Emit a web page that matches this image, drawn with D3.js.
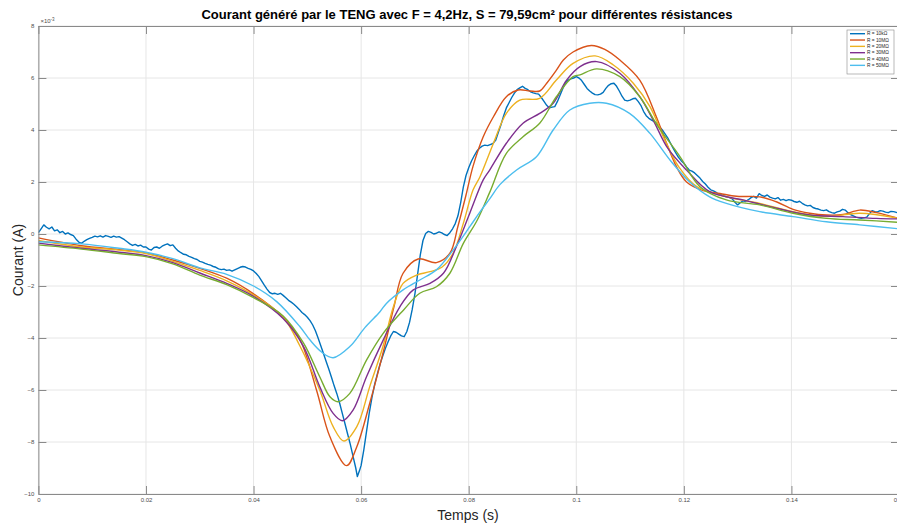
<!DOCTYPE html>
<html>
<head>
<meta charset="utf-8">
<script src="https://cdn.jsdelivr.net/npm/d3@7"></script>
<style>
  html, body { margin: 0; padding: 0; background: #ffffff; }
  svg { display: block; font-family: "Liberation Sans", Arial, sans-serif; }
</style>
</head>
<body>
<svg id="chart" width="897" height="524"></svg>
<script>
// ---------- DATA ----------
const titleText = "Courant généré par le TENG avec F = 4,2Hz, S = 79,59cm² pour différentes résistances";
const xLabel = "Temps (s)";
const yLabel = "Courant (A)";
const yExponent = "×10";
const seriesNames = ["R = 10kΩ", "R = 10MΩ", "R = 20MΩ", "R = 30MΩ", "R = 40MΩ", "R = 50MΩ"];
const seriesColors = ["#0072BD", "#D95319", "#EDB120", "#7E2F8E", "#77AC30", "#4DBEEE"];
const xTicks = [0, 0.02, 0.04, 0.06, 0.08, 0.1, 0.12, 0.14, 0.16];
const xTickLabels = ["0", "0.02", "0.04", "0.06", "0.08", "0.1", "0.12", "0.14", "0.16"];
const yTicks = [-10, -8, -6, -4, -2, 0, 2, 4, 6, 8];

// current values in mA (×10^-3 A), time in s
const r10k = [
 [0,0.05],[0.0005,0.2],[0.001,0.35],[0.0015,0.26],[0.002,0.2],[0.0025,0.27],[0.003,0.12],[0.0035,0.16],[0.004,0.05],[0.0045,0.1],
 [0.005,0.0],[0.0055,0.04],[0.006,-0.02],[0.0065,-0.06],[0.007,-0.2],[0.0075,-0.31],[0.008,-0.36],[0.0085,-0.28],[0.009,-0.22],[0.0095,-0.17],
 [0.010,-0.13],[0.0105,-0.08],[0.011,-0.11],[0.0115,-0.07],[0.012,-0.12],[0.0125,-0.06],[0.013,-0.09],[0.0135,-0.13],[0.014,-0.08],[0.0145,-0.12],
 [0.015,-0.1],[0.0155,-0.16],[0.016,-0.22],[0.0165,-0.3],[0.017,-0.38],[0.0175,-0.44],[0.018,-0.4],[0.0185,-0.46],[0.019,-0.43],[0.0195,-0.5],
 [0.020,-0.5],[0.0205,-0.58],[0.021,-0.62],[0.0215,-0.52],[0.022,-0.5],[0.0225,-0.55],[0.023,-0.47],[0.0235,-0.42],[0.024,-0.38],[0.0245,-0.45],
 [0.025,-0.42],[0.0255,-0.55],[0.026,-0.65],[0.0265,-0.72],[0.027,-0.78],[0.0275,-0.8],[0.028,-0.86],[0.0285,-0.9],[0.029,-0.95],[0.0295,-0.98],
 [0.030,-1.05],[0.0305,-1.08],[0.031,-1.13],[0.0315,-1.17],[0.032,-1.2],[0.0325,-1.25],[0.033,-1.28],[0.0335,-1.34],[0.034,-1.37],[0.0345,-1.35],
 [0.035,-1.4],[0.0355,-1.38],[0.036,-1.43],[0.0365,-1.38],[0.037,-1.33],[0.0375,-1.28],[0.038,-1.25],[0.0385,-1.27],[0.039,-1.32],[0.0395,-1.36],
 [0.040,-1.42],[0.0405,-1.52],[0.041,-1.64],[0.0415,-1.8],[0.042,-1.97],[0.0425,-2.12],[0.043,-2.25],[0.0435,-2.3],[0.044,-2.28],[0.0445,-2.32],
 [0.045,-2.28],[0.0455,-2.36],[0.046,-2.45],[0.0465,-2.55],[0.047,-2.62],[0.0475,-2.7],[0.048,-2.8],[0.0485,-2.9],[0.049,-3.02],[0.0495,-3.1],
 [0.050,-3.2],[0.0505,-3.33],[0.051,-3.5],[0.0515,-3.72],[0.052,-4.0],[0.0525,-4.3],[0.053,-4.6],[0.0535,-4.9],[0.054,-5.2],[0.0545,-5.52],
 [0.055,-5.85],[0.0555,-6.15],[0.056,-6.5],[0.0565,-6.9],[0.057,-7.3],[0.0575,-7.7],[0.058,-8.1],[0.0585,-8.55],[0.059,-9.0],[0.0593,-9.33],
 [0.0597,-9.1],[0.060,-8.9],[0.0605,-8.3],[0.061,-7.6],[0.0615,-6.9],[0.062,-6.3],[0.0625,-5.8],[0.063,-5.4],[0.0635,-5.02],[0.064,-4.7],
 [0.0645,-4.4],[0.065,-4.15],[0.0655,-3.92],[0.066,-3.75],[0.0665,-3.78],[0.067,-3.85],[0.0675,-3.92],[0.068,-3.95],[0.0685,-3.75],[0.069,-3.4],
 [0.0695,-2.9],[0.070,-2.3],[0.0705,-1.55],[0.071,-0.8],[0.0715,-0.25],[0.072,0.02],[0.0725,0.1],[0.073,0.06],[0.0735,0.0],[0.074,0.03],
 [0.0745,0.08],[0.075,0.04],[0.0755,-0.02],[0.076,-0.06],[0.0765,0.05],[0.077,0.2],[0.0775,0.4],[0.078,0.7],[0.0785,1.2],[0.079,1.8],
 [0.0795,2.25],[0.080,2.55],[0.0805,2.8],[0.081,3.0],[0.0815,3.18],[0.082,3.3],[0.0825,3.38],[0.083,3.42],[0.0835,3.4],[0.084,3.44],
 [0.0845,3.48],[0.085,3.6],[0.0855,3.9],[0.086,4.2],[0.0865,4.55],[0.087,4.85],[0.0875,5.05],[0.088,5.25],[0.0885,5.42],[0.089,5.55],
 [0.0895,5.62],[0.090,5.68],[0.0905,5.6],[0.091,5.55],[0.0915,5.47],[0.092,5.43],[0.0925,5.4],[0.093,5.38],[0.0935,5.25],[0.094,5.1],
 [0.0945,4.95],[0.095,4.85],[0.0955,4.88],[0.096,4.9],[0.0965,5.1],[0.097,5.35],[0.0975,5.6],[0.098,5.82],[0.0985,5.92],[0.099,5.97],
 [0.0995,6.0],[0.100,6.05],[0.1005,6.0],[0.101,5.9],[0.1015,5.75],[0.102,5.6],[0.1025,5.5],[0.103,5.42],[0.1035,5.36],[0.104,5.35],
 [0.1045,5.38],[0.105,5.45],[0.1055,5.6],[0.106,5.72],[0.1065,5.78],[0.107,5.8],[0.1075,5.68],[0.108,5.5],[0.1085,5.3],[0.109,5.15],
 [0.1095,5.12],[0.110,5.15],[0.1105,5.2],[0.111,5.22],[0.1115,5.1],[0.112,4.95],[0.1125,4.72],[0.113,4.55],[0.1135,4.45],[0.114,4.38],
 [0.1145,4.32],[0.115,4.25],[0.1155,4.12],[0.116,4.0],[0.1165,3.85],[0.117,3.7],[0.1175,3.5],[0.118,3.3],[0.1185,3.12],[0.119,2.95],
 [0.1195,2.82],[0.120,2.72],[0.1205,2.58],[0.121,2.46],[0.1215,2.42],[0.122,2.35],[0.1225,2.25],[0.123,2.15],[0.1235,2.02],[0.124,1.92],
 [0.1245,1.8],[0.125,1.7],[0.1255,1.66],[0.126,1.6],[0.1265,1.52],[0.127,1.5],[0.1275,1.46],[0.128,1.43],[0.1285,1.4],[0.129,1.35],
 [0.1295,1.22],[0.130,1.12],[0.1305,1.2],[0.131,1.28],[0.1315,1.25],[0.132,1.32],[0.1325,1.4],[0.133,1.45],[0.1335,1.38],[0.134,1.55],
 [0.1345,1.48],[0.135,1.45],[0.1355,1.5],[0.136,1.42],[0.1365,1.38],[0.137,1.35],[0.1375,1.4],[0.138,1.3],[0.1385,1.33],[0.139,1.28],
 [0.1395,1.32],[0.140,1.3],[0.1405,1.25],[0.141,1.22],[0.1415,1.26],[0.142,1.18],[0.1425,1.12],[0.143,1.08],[0.1435,1.1],[0.144,1.02],
 [0.1445,0.98],[0.145,0.96],[0.1455,0.92],[0.146,0.9],[0.1465,0.93],[0.147,0.86],[0.1475,0.82],[0.148,0.8],[0.1485,0.85],[0.149,0.88],
 [0.1495,0.95],[0.150,0.92],[0.1505,0.82],[0.151,0.75],[0.1515,0.7],[0.152,0.65],[0.1525,0.62],[0.153,0.6],[0.1535,0.62],[0.154,0.65],
 [0.1545,0.78],[0.155,0.9],[0.1555,0.86],[0.156,0.85],[0.1565,0.9],[0.157,0.88],[0.1575,0.84],[0.158,0.82],[0.1585,0.87],[0.159,0.86],[0.1595,0.83],[0.160,0.8]
];
const r10M = [
 [0,-0.15],[0.008,-0.45],[0.015,-0.6],[0.02,-0.73],[0.025,-1.0],[0.03,-1.32],[0.035,-1.7],[0.04,-2.3],[0.0455,-3.2],[0.0486,-4.05],
 [0.0517,-6.0],[0.0542,-7.8],[0.0573,-8.91],[0.0592,-8.18],[0.0616,-6.51],[0.0644,-4.3],[0.0661,-2.8],[0.0678,-1.51],[0.0706,-0.96],[0.074,-1.1],
 [0.0765,-0.74],[0.078,0.3],[0.0795,1.5],[0.0808,2.6],[0.0827,3.74],[0.0846,4.51],[0.087,5.28],[0.0892,5.54],[0.0914,5.5],[0.0932,5.5],
 [0.0945,5.8],[0.0963,6.3],[0.0976,6.69],[0.0994,7.0],[0.1028,7.25],[0.1053,7.1],[0.1081,6.69],[0.1118,5.92],[0.1149,4.5],[0.1162,3.8],
 [0.1186,2.6],[0.1205,2.0],[0.1236,1.67],[0.1267,1.56],[0.1298,1.45],[0.1341,1.43],[0.1372,1.24],[0.1403,0.95],[0.1434,0.8],[0.1465,0.73],
 [0.1496,0.75],[0.1527,0.92],[0.1558,0.82],[0.16,0.6]
];
const r20M = [
 [0,-0.25],[0.008,-0.5],[0.015,-0.62],[0.02,-0.75],[0.025,-1.05],[0.03,-1.4],[0.035,-1.8],[0.04,-2.35],[0.0455,-3.2],[0.0486,-4.3],
 [0.0523,-6.0],[0.0548,-7.41],[0.0568,-7.96],[0.0592,-7.41],[0.0616,-5.87],[0.0641,-4.3],[0.066,-2.8],[0.0678,-1.9],[0.0703,-1.58],[0.0728,-1.45],
 [0.075,-1.28],[0.0771,-0.74],[0.079,0.41],[0.0808,1.69],[0.0821,2.2],[0.0846,3.49],[0.087,4.64],[0.0895,5.15],[0.0932,5.22],[0.0963,5.92],
 [0.0994,6.56],[0.1035,6.85],[0.1069,6.5],[0.1106,5.8],[0.1137,4.9],[0.1165,3.6],[0.119,2.6],[0.1224,1.82],[0.1279,1.43],[0.1341,1.18],
 [0.1403,0.86],[0.1465,0.67],[0.1527,0.8],[0.16,0.6]
];
const r30M = [
 [0,-0.35],[0.008,-0.55],[0.015,-0.7],[0.02,-0.83],[0.025,-1.1],[0.03,-1.5],[0.035,-1.9],[0.04,-2.4],[0.0455,-3.25],[0.0493,-4.33],
 [0.0523,-5.87],[0.0548,-6.9],[0.0565,-7.18],[0.0585,-6.77],[0.061,-5.49],[0.0641,-4.08],[0.0672,-2.8],[0.0697,-2.15],[0.0728,-1.9],[0.0753,-1.51],
 [0.0777,-0.49],[0.0802,0.8],[0.0827,2.08],[0.0839,2.46],[0.087,3.49],[0.0901,4.26],[0.0932,4.64],[0.0957,5.03],[0.0982,5.92],[0.1007,6.44],
 [0.1038,6.63],[0.1081,6.18],[0.1118,5.28],[0.1143,4.38],[0.1170,3.3],[0.1205,2.46],[0.1248,1.63],[0.131,1.31],[0.1372,0.99],[0.1434,0.73],
 [0.1496,0.67],[0.1558,0.6],[0.16,0.58]
];
const r40M = [
 [0,-0.42],[0.008,-0.58],[0.015,-0.75],[0.02,-0.87],[0.025,-1.15],[0.03,-1.58],[0.035,-1.95],[0.04,-2.45],[0.0455,-3.15],[0.0493,-4.2],
 [0.0523,-5.49],[0.0542,-6.26],[0.0557,-6.45],[0.0579,-6.13],[0.061,-4.85],[0.0641,-3.82],[0.0679,-2.92],[0.0709,-2.28],[0.074,-2.03],[0.0765,-1.51],
 [0.079,-0.36],[0.0815,0.5],[0.0839,1.6],[0.087,3.1],[0.0901,3.74],[0.0932,4.26],[0.0963,5.28],[0.0994,6.05],[0.1007,6.12],[0.1038,6.35],
 [0.1081,6.05],[0.1118,5.28],[0.1150,4.2],[0.1193,2.97],[0.123,1.82],[0.1279,1.31],[0.1341,1.12],[0.1403,0.8],[0.1465,0.6],[0.1527,0.54],[0.16,0.45]
];
const r50M = [
 [0,-0.3],[0.008,-0.38],[0.015,-0.55],[0.02,-0.7],[0.025,-0.95],[0.03,-1.3],[0.035,-1.55],[0.04,-2.0],[0.0443,-2.6],[0.0486,-3.56],
 [0.0505,-4.08],[0.0527,-4.55],[0.0548,-4.76],[0.0579,-4.33],[0.0607,-3.6],[0.0635,-2.99],[0.0647,-2.67],[0.0678,-2.15],[0.0709,-1.77],[0.074,-1.38],
 [0.0771,-0.62],[0.0802,0.28],[0.0821,0.85],[0.0839,1.35],[0.0858,1.9],[0.0889,2.46],[0.0926,2.97],[0.0957,4.0],[0.0988,4.77],[0.1025,5.03],
 [0.1056,5.03],[0.1099,4.64],[0.1137,3.87],[0.1174,2.85],[0.1211,2.0],[0.1248,1.43],[0.1279,1.18],[0.1341,0.86],[0.1403,0.67],[0.1465,0.47],
 [0.1527,0.35],[0.16,0.2]
];
const seriesData = [r10k, r10M, r20M, r30M, r40M, r50M];

// ---------- LAYOUT ----------
const svg = d3.select("#chart");
const plotLeft = 38.4, plotRight = 899, plotTop = 26, plotBottom = 494;
const x = d3.scaleLinear().domain([0, 0.16]).range([plotLeft, plotRight]);
const y = d3.scaleLinear().domain([-10, 8]).range([plotBottom, plotTop]);
const axisColor = "#8a8a8a";
const labelColor = "#4d4d4d";

// grid
const grid = svg.append("g");
grid.selectAll("line.vx").data(xTicks).join("line")
  .attr("x1", d => x(d)).attr("x2", d => x(d))
  .attr("y1", plotTop).attr("y2", plotBottom)
  .attr("stroke", "#e6e6e6").attr("stroke-width", 1);
grid.selectAll("line.hy").data(yTicks).join("line")
  .attr("x1", plotLeft).attr("x2", plotRight)
  .attr("y1", d => y(d)).attr("y2", d => y(d))
  .attr("stroke", "#e6e6e6").attr("stroke-width", 1);

// lines
const clip = svg.append("clipPath").attr("id", "clip").append("rect")
  .attr("x", plotLeft).attr("y", plotTop).attr("width", plotRight - plotLeft).attr("height", plotBottom - plotTop);
const smoothLine = d3.line().x(d => x(d[0])).y(d => y(d[1])).curve(d3.curveCatmullRom.alpha(0.5));
const noisyLine = d3.line().x(d => x(d[0])).y(d => y(d[1])).curve(d3.curveLinear);
const lines = svg.append("g").attr("clip-path", "url(#clip)");
// draw in reverse so first series is on top? MATLAB draws later series on top
seriesData.forEach((s, i) => {
  lines.append("path")
    .datum(s)
    .attr("fill", "none")
    .attr("stroke", seriesColors[i])
    .attr("stroke-width", 1.4)
    .attr("stroke-linejoin", "round")
    .attr("d", i === 0 ? noisyLine : smoothLine);
});

// axes
const xAxisB = d3.axisBottom(x).tickValues(xTicks).tickFormat((d, i) => xTickLabels[i]).tickSizeInner(-8).tickSizeOuter(0).tickPadding(4);
const xAxisT = d3.axisTop(x).tickValues(xTicks).tickFormat("").tickSizeInner(-8).tickSizeOuter(0);
const yAxisL = d3.axisLeft(y).tickValues(yTicks).tickSizeInner(-8).tickSizeOuter(0).tickPadding(4);
const yAxisR = d3.axisRight(y).tickValues(yTicks).tickFormat("").tickSizeInner(-8).tickSizeOuter(0);

function styleAxis(g) {
  g.select(".domain").attr("stroke", axisColor);
  g.selectAll(".tick line").attr("stroke", axisColor);
  g.selectAll(".tick text").attr("fill", labelColor).style("font-size", "6px").style("font-family", "Liberation Sans, Arial, sans-serif");
}
svg.append("g").attr("transform", `translate(0,${plotBottom})`).call(xAxisB).call(styleAxis);
svg.append("g").attr("transform", `translate(0,${plotTop})`).call(xAxisT).call(styleAxis);
svg.append("g").attr("transform", `translate(${plotLeft},0)`).call(yAxisL).call(styleAxis);
svg.append("g").attr("transform", `translate(${plotRight},0)`).call(yAxisR).call(styleAxis);

// exponent label
const expT = svg.append("text").attr("x", plotLeft + 2).attr("y", plotTop - 3)
  .attr("fill", labelColor).style("font-size", "6px");
expT.append("tspan").text(yExponent);
expT.append("tspan").attr("dy", -2.5).style("font-size", "4.5px").text("-3");

// title
svg.append("text").attr("x", 467).attr("y", 19).attr("text-anchor", "middle")
  .style("font-size", "13px").style("font-weight", "bold").attr("fill", "#000")
  .text(titleText);
// axis labels
svg.append("text").attr("x", 468).attr("y", 520).attr("text-anchor", "middle")
  .style("font-size", "14px").attr("fill", "#262626").text(xLabel);
svg.append("text").attr("transform", "translate(23,260) rotate(-90)").attr("text-anchor", "middle")
  .style("font-size", "14px").attr("fill", "#262626").text(yLabel);

// legend
const lg = svg.append("g");
lg.append("rect").attr("x", 847).attr("y", 30).attr("width", 47).attr("height", 44)
  .attr("fill", "#fff").attr("stroke", "#8a8a8a").attr("stroke-width", 0.6);
seriesNames.forEach((name, i) => {
  const yy = 33.7 + i * 6.33;
  lg.append("line").attr("x1", 850).attr("x2", 865).attr("y1", yy).attr("y2", yy)
    .attr("stroke", seriesColors[i]).attr("stroke-width", 1.4);
  lg.append("text").attr("x", 867).attr("y", yy + 1.7).style("font-size", "4.8px").attr("fill", "#262626").text(name);
});
</script>
</body>
</html>
